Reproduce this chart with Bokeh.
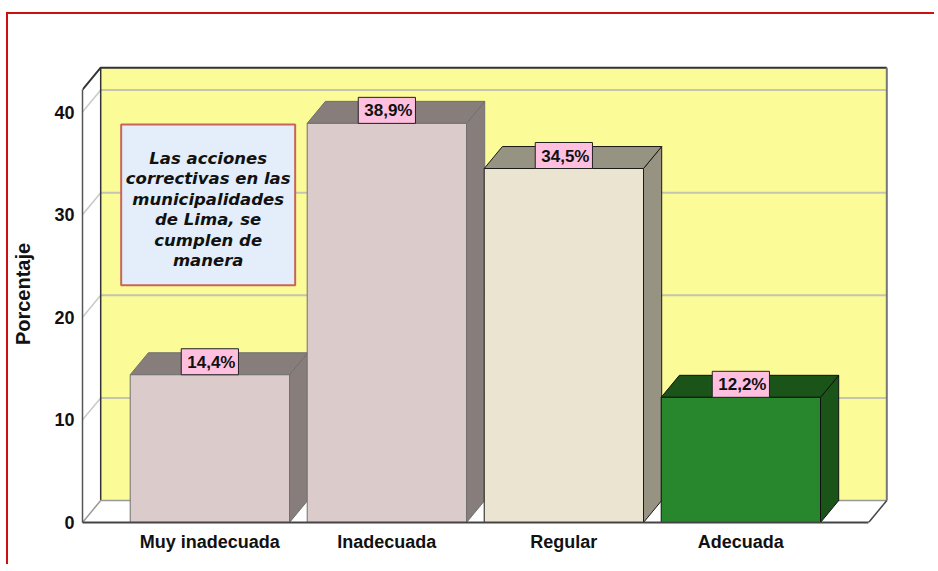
from bokeh.plotting import figure
from bokeh.models import Range1d, FixedTicker, BoxAnnotation, Label, ColumnDataSource, LinearAxis
from bokeh.core.properties import value
from bokeh.embed import file_html
from bokeh.resources import INLINE

# ---------------- data ----------------
categories = ["Muy inadecuada", "Inadecuada", "Regular", "Adecuada"]
percentages = [14.4, 38.9, 34.5, 12.2]
value_labels = ["14,4%", "38,9%", "34,5%", "12,2%"]
y_ticks = [0, 10, 20, 30, 40]
note_lines = ["Las acciones", "correctivas en las", "municipalidades",
              "de Lima, se", "cumplen de", "manera"]

front_colors = ["#dbcbca", "#dbcbca", "#eae4d1", "#28872d"]
shade_colors = ["#877d7b", "#877d7b", "#979383", "#1b5419"]
edge_colors = ["#707070", "#707070", "#1a1a1a", "#111111"]

# ---------------- 3D geometry (data units) ----------------
BAR_W = 0.9
DX = 0.1028      # depth offset along x (category units)
DY = 2.144       # depth offset along y (percent units)
X_LEFT = -0.7195
X_RIGHT_FRONT = 3.7218
Y_TOP_FRONT = 42.18
X_BACK_L = X_LEFT + DX
X_BACK_R = X_RIGHT_FRONT + DX
Y_TOP_BACK = Y_TOP_FRONT + DY

p = figure(width=928, height=552, output_backend="svg", toolbar_location=None,
           x_range=Range1d(X_LEFT, 3.8398), y_range=Range1d(0, 44.54),
           min_border_left=74, min_border_right=47, min_border_top=51,
           min_border_bottom=44, x_axis_type=None, y_axis_type=None)
p.outline_line_color = None
p.grid.visible = False
p.background_fill_color = "white"
p.border_fill_color = "white"
p.styles = {"border-left": "2px solid #cc1010", "border-top": "2px solid #cc1010",
            "margin-top": "5px", "position": "relative", "top": "7px", "left": "6px"}

yax = LinearAxis(ticker=FixedTicker(ticks=y_ticks), bounds=(0, Y_TOP_FRONT))
yax.axis_label = "Porcentaje"
yax.axis_label_text_font = "Liberation Sans"
yax.axis_label_text_font_style = "bold"
yax.axis_label_text_font_size = "20px"
yax.axis_label_text_color = "#111111"
yax.axis_label_standoff = 17
yax.major_label_text_font = "Liberation Sans"
yax.major_label_text_font_style = "bold"
yax.major_label_text_font_size = "18px"
yax.major_label_text_color = "#111111"
yax.major_label_standoff = 8
yax.major_tick_out = 0
yax.major_tick_in = 0
yax.minor_tick_out = 0
yax.minor_tick_in = 0
yax.axis_line_color = "#555555"
yax.axis_line_width = 1.5
p.add_layout(yax, "left")

xax = LinearAxis(ticker=FixedTicker(ticks=list(range(len(categories)))),
                 bounds=(X_LEFT, X_RIGHT_FRONT))
xax.major_label_overrides = {i: c for i, c in enumerate(categories)}
xax.major_label_text_font = "Liberation Sans"
xax.major_label_text_font_style = "bold"
xax.major_label_text_font_size = "18px"
xax.major_label_text_color = "#111111"
xax.major_label_standoff = 9
xax.major_tick_out = 0
xax.major_tick_in = 0
xax.minor_tick_out = 0
xax.minor_tick_in = 0
xax.axis_line_color = "#444444"
xax.axis_line_width = 2
p.add_layout(xax, "below")

# ---------------- walls and floor ----------------
p.patch([X_LEFT, X_LEFT, X_BACK_L, X_BACK_L], [0, Y_TOP_FRONT, Y_TOP_BACK, DY],
        fill_color="white", line_color=None)
p.patch([X_BACK_L, X_BACK_L, X_BACK_R, X_BACK_R], [DY, Y_TOP_BACK, Y_TOP_BACK, DY],
        fill_color="#fbfb98", line_color=None)
p.patch([X_LEFT, X_RIGHT_FRONT, X_BACK_R, X_BACK_L], [0, 0, DY, DY],
        fill_color="white", line_color=None)

grid_vals = [t for t in y_ticks if t > 0]
p.segment(x0=[X_BACK_L] * len(grid_vals), y0=[v + DY for v in grid_vals],
          x1=[X_BACK_R] * len(grid_vals), y1=[v + DY for v in grid_vals],
          line_color="#c4c4b0", line_width=2)
p.segment(x0=[X_LEFT] * len(grid_vals), y0=grid_vals,
          x1=[X_BACK_L] * len(grid_vals), y1=[v + DY for v in grid_vals],
          line_color="#c8c8c8", line_width=1.5)

p.line([X_LEFT, X_BACK_L, X_BACK_R], [Y_TOP_FRONT, Y_TOP_BACK, Y_TOP_BACK],
       line_color="#333333", line_width=2)
p.line([X_BACK_R, X_BACK_R], [DY, Y_TOP_BACK], line_color="#777777", line_width=2)
p.line([X_BACK_L, X_BACK_L], [DY, Y_TOP_BACK], line_color="#333333", line_width=1.5)
p.line([X_LEFT, X_BACK_L, X_BACK_R], [0, DY, DY], line_color="#999999", line_width=1.5)
p.line([X_RIGHT_FRONT, X_BACK_R], [0, DY], line_color="#444444", line_width=1.5)

# ---------------- bars ----------------
xs_idx = list(range(len(categories)))
lefts = [i - BAR_W / 2 for i in xs_idx]
rights = [i + BAR_W / 2 for i in xs_idx]

side_xs = [[r, r + DX, r + DX, r] for r in rights]
side_ys = [[0, DY, v + DY, v] for v in percentages]
top_xs = [[l, r, r + DX, l + DX] for l, r in zip(lefts, rights)]
top_ys = [[v, v, v + DY, v + DY] for v in percentages]

p.patches(side_xs, side_ys, fill_color=shade_colors, line_color=edge_colors, line_width=1)
p.patches(top_xs, top_ys, fill_color=shade_colors, line_color=edge_colors, line_width=1)
p.quad(left=lefts, right=rights, bottom=[0] * len(percentages), top=percentages,
       fill_color=front_colors, line_color=edge_colors, line_width=1)

src = ColumnDataSource(dict(x=xs_idx, y=percentages, t=value_labels))
p.text(x="x", y="y", text="t", source=src, text_align="center", text_baseline="bottom",
       text_font=value("Liberation Sans"), text_font_style="bold", text_font_size="17px",
       text_color="#111111", background_fill_color="#ffc0e0",
       border_line_color="#222222", border_line_width=1, padding=(6, 3, 4, 3))

# ---------------- note box ----------------
box = BoxAnnotation(left=-0.501, right=0.482, bottom=23.13, top=38.79,
                    fill_color="#e3eefa", fill_alpha=1.0,
                    line_color="#c8645a", line_width=2, line_alpha=1.0)
p.add_layout(box)
note = Label(x=-0.0095, y=30.5, text="\n".join(note_lines), text_align="center",
             text_baseline="middle", text_font="DejaVu Sans",
             text_font_style="bold italic", text_font_size="16.5px",
             text_color="#111111", text_line_height=1.08)
p.add_layout(note)

open("out.html", "w").write(file_html(p, INLINE))
